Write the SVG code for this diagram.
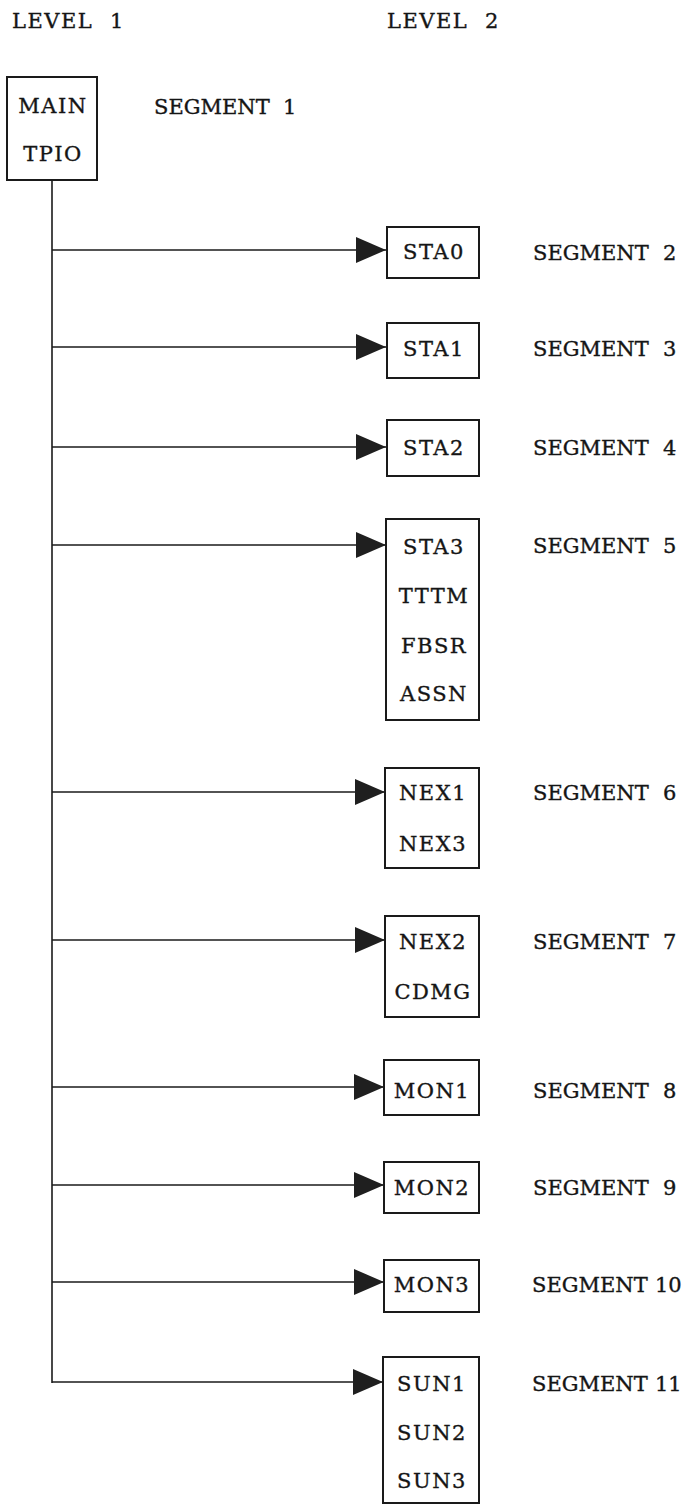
<svg xmlns="http://www.w3.org/2000/svg" width="696" height="1511" viewBox="0 0 696 1511">
<style>
text{font-family:"DejaVu Serif","Liberation Serif",serif;font-size:21px;fill:#151515;stroke:#151515;stroke-width:0.35}
.c{text-anchor:middle;letter-spacing:1.5px}
.box{fill:none;stroke:#1a1a1a;stroke-width:2}
.ln{fill:none;stroke:#1a1a1a;stroke-width:1.6}
</style>
<defs>
<marker id="arr" markerUnits="userSpaceOnUse" markerWidth="30" markerHeight="26" refX="30" refY="13" orient="auto">
<path d="M0,0 L30,13 L0,26 z" fill="#1f1f1f"/>
</marker>
</defs>
<rect width="696" height="1511" fill="#fff"/>
<text x="12" y="28" style="letter-spacing:1.5px">LEVEL<tspan x="110">1</tspan></text>
<text x="387" y="28" style="letter-spacing:1.5px">LEVEL<tspan x="485">2</tspan></text>

<g id="connectors">
<line class="ln" x1="52" y1="180" x2="52" y2="1383"/>
<line class="ln" x1="52" y1="250" x2="386" y2="250" marker-end="url(#arr)"/>
<line class="ln" x1="52" y1="347" x2="386" y2="347" marker-end="url(#arr)"/>
<line class="ln" x1="52" y1="447" x2="386" y2="447" marker-end="url(#arr)"/>
<line class="ln" x1="52" y1="545" x2="386" y2="545" marker-end="url(#arr)"/>
<line class="ln" x1="52" y1="792" x2="385" y2="792" marker-end="url(#arr)"/>
<line class="ln" x1="52" y1="940" x2="385" y2="940" marker-end="url(#arr)"/>
<line class="ln" x1="52" y1="1087" x2="384" y2="1087" marker-end="url(#arr)"/>
<line class="ln" x1="52" y1="1185" x2="384" y2="1185" marker-end="url(#arr)"/>
<line class="ln" x1="52" y1="1282" x2="384" y2="1282" marker-end="url(#arr)"/>
<line class="ln" x1="52" y1="1382" x2="383" y2="1382" marker-end="url(#arr)"/>
</g>

<g id="main">
<rect class="box" x="7" y="77" width="90" height="103"/>
<text class="c" x="53" y="113">MAIN</text>
<text class="c" x="53" y="161">TPIO</text>
<text x="154" y="114">SEGMENT<tspan x="283">1</tspan></text>
</g>

<g id="sta0">
<rect class="box" x="387" y="227" width="92" height="51"/>
<text class="c" x="434" y="259">STA0</text>
<text x="533" y="260">SEGMENT<tspan x="663">2</tspan></text>
</g>

<g id="sta1">
<rect class="box" x="387" y="323" width="92" height="55"/>
<text class="c" x="434" y="356">STA1</text>
<text x="533" y="356">SEGMENT<tspan x="663">3</tspan></text>
</g>

<g id="sta2">
<rect class="box" x="387" y="420" width="92" height="56"/>
<text class="c" x="434" y="455">STA2</text>
<text x="533" y="455">SEGMENT<tspan x="663">4</tspan></text>
</g>

<g id="sta3">
<rect class="box" x="386" y="519" width="93" height="201"/>
<text class="c" x="434" y="554">STA3</text>
<text class="c" x="434" y="603">TTTM</text>
<text class="c" x="434" y="653">FBSR</text>
<text class="c" x="434" y="701">ASSN</text>
<text x="533" y="553">SEGMENT<tspan x="663">5</tspan></text>
</g>

<g id="nex1">
<rect class="box" x="385" y="768" width="94" height="100"/>
<text class="c" x="433" y="800">NEX1</text>
<text class="c" x="433" y="851">NEX3</text>
<text x="533" y="800">SEGMENT<tspan x="663">6</tspan></text>
</g>

<g id="nex2">
<rect class="box" x="385" y="916" width="94" height="101"/>
<text class="c" x="433" y="949">NEX2</text>
<text class="c" x="433" y="999">CDMG</text>
<text x="533" y="949">SEGMENT<tspan x="663">7</tspan></text>
</g>

<g id="mon1">
<rect class="box" x="384" y="1060" width="95" height="55"/>
<text class="c" x="432" y="1098">MON1</text>
<text x="533" y="1098">SEGMENT<tspan x="663">8</tspan></text>
</g>

<g id="mon2">
<rect class="box" x="384" y="1162" width="95" height="51"/>
<text class="c" x="432" y="1195">MON2</text>
<text x="533" y="1195">SEGMENT<tspan x="663">9</tspan></text>
</g>

<g id="mon3">
<rect class="box" x="384" y="1260" width="95" height="52"/>
<text class="c" x="432" y="1292">MON3</text>
<text x="532" y="1292">SEGMENT<tspan x="655">10</tspan></text>
</g>

<g id="sun1">
<rect class="box" x="383" y="1357" width="96" height="146"/>
<text class="c" x="432" y="1391">SUN1</text>
<text class="c" x="432" y="1440">SUN2</text>
<text class="c" x="432" y="1488">SUN3</text>
<text x="532" y="1391">SEGMENT<tspan x="655">11</tspan></text>
</g>
</svg>
